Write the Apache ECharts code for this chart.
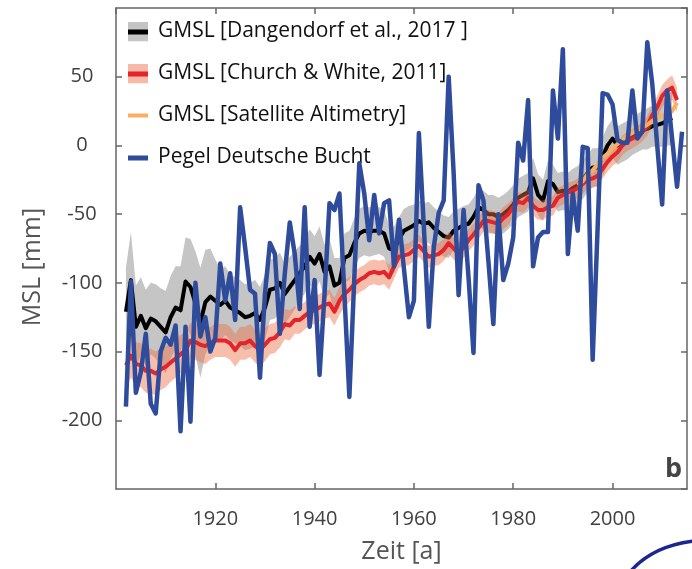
<!DOCTYPE html>
<html>
<head>
<meta charset="utf-8">
<script src="https://cdn.jsdelivr.net/npm/echarts@6/dist/echarts.min.js"></script>
<style>html,body{margin:0;padding:0;background:#fff}#c{width:692px;height:569px}</style>
</head>
<body>
<div id="c"></div>
<script>
// ---- data ----
const xTicks = [1920, 1940, 1960, 1980, 2000];
const yTicks = [-200, -150, -100, -50, 0, 50];

const dangStart = 1902;
const dangMean = [
  -121,-98,-132,-124,-133,-126,-128,-132,-136,
  -125,-118,-120,-99,-103,-115,-129,-114,-110,-113,
  -116,-113,-118,-120,-122,-125,-124,-122,-127,-118,
  -105,-104,-100,-108,-103,-98,-93,-88,-81,-86,
  -79,-92,-88,-102,-100,-82,-80,-71,-64,-62,
  -63,-62,-62,-64,-75,-76,-68,-62,-60,-58,
  -55,-57,-56,-60,-63,-66,-67,-62,-60,-58,
  -57,-52,-45,-47,-50,-50,-52,-50,-47,-43,
  -38,-36,-34,-24,-36,-40,-26,-28,-34,-33,
  -34,-31,-29,-25,-20,-16,-16,-8,0,5,
  0,2,4,7,9,11,12,14,15,16,18,20
];
const dangHalfWidth = [
  32,35,30,28,28,26,27,28,30,
  30,30,32,32,35,38,40,38,35,30,
  26,25,24,24,24,24,24,24,24,24,
  22,22,22,22,22,21,20,20,20,20,
  20,20,20,20,18,18,18,18,18,18,
  18,18,17,17,17,17,16,16,16,15,
  15,15,15,15,15,15,15,14,14,14,
  14,14,14,14,14,14,14,14,14,14,
  14,14,14,15,15,15,15,14,14,14,
  14,14,14,14,14,14,14,14,14,14,
  14,14,14,14,14,14,15,15,16,17,18,20
];

const churchStart = 1902;
const churchMean = [
  -160,-153,-159,-160,-164,-164,-166,-163,-161,
  -158,-155,-152,-149,-142,-143,-145,-146,-144,-142,
  -142,-142,-144,-149,-144,-144,-142,-146,-149,-145,
  -141,-140,-136,-130,-131,-127,-127,-124,-121,-120,
  -118,-116,-115,-121,-113,-108,-105,-101,-98,-96,
  -93,-92,-93,-92,-96,-88,-81,-80,-79,-76,
  -73,-77,-81,-80,-79,-76,-71,-75,-79,-74,
  -69,-65,-60,-55,-55,-56,-57,-53,-50,-45,
  -41,-42,-38,-44,-47,-47,-45,-44,-38,-36,
  -34,-33,-31,-28,-25,-24,-22,-17,-12,-8,
  -5,0,3,5,7,10,14,22,28,36,40,42,33
];
const churchHalfWidth = [
  16,16,16,16,16,16,16,15,15,
  14,14,14,13,13,13,13,13,12,12,
  12,12,12,12,12,12,12,12,12,12,
  11,11,11,11,11,10,10,10,10,10,
  10,10,10,10,10,10,9,9,9,9,
  9,9,9,9,9,9,8,8,8,8,
  8,8,8,8,8,8,8,8,8,8,
  8,8,8,8,8,8,8,8,8,7,
  7,7,7,7,7,7,7,7,7,7,
  7,7,7,7,7,7,7,7,7,7,
  7,7,7,7,7,7,7,7,8,8,8,9,9
];

const satStart = 1993;
const satMean = [-29,-26,-21,-18,-14,-9,-6,-2,1,4,7,9,11,13,15,18,20,22,22,25,31];

const pegelStart = 1902;
const pegel = [
  -190,-99,-180,-165,-137,-188,-195,-150,-140,
  -145,-131,-208,-132,-201,-100,-139,-125,-150,-140,
  -86,-113,-93,-127,-45,-74,-105,-108,-169,-108,
  -71,-79,-137,-93,-56,-79,-119,-45,-132,-98,
  -167,-108,-42,-47,-35,-108,-183,-96,-13,-35,
  -69,-36,-64,-42,-40,-88,-54,-90,-125,-113,
  9,-59,-132,-74,-49,-40,50,-20,-109,-47,
  -96,-151,-29,-40,-84,-130,-50,-98,-86,-67,
  2,-11,33,-88,-67,-63,-63,40,5,70,
  -79,-35,-62,-1,-2,-156,-60,38,37,30,
  4,2,2,40,5,10,75,45,0,-43,40,5,-30,10
];

const names = [
  'GMSL [Dangendorf et al., 2017 ]',
  'GMSL [Church & White, 2011]',
  'GMSL [Satellite Altimetry]',
  'Pegel Deutsche Bucht'
];

// ---- helpers ----
const pairs = (start, arr) => arr.map((v, i) => [start + i, v]);
const band = (start, mean, hw) => mean.map((v, i) => [start + i, v - hw[i], v + hw[i]]);

function bandSeries(name, data, fill, z) {
  return {
    type: 'custom', name: name, coordinateSystem: 'cartesian2d', xAxisIndex: 0, yAxisIndex: 0,
    data: data, encode: { x: 0, y: [1, 2] }, silent: true, z: z, clip: true,
    renderItem: function (params, api) {
      if (params.dataIndex !== 0) return;
      const pts = [];
      for (let i = 0; i < data.length; i++) pts.push(api.coord([data[i][0], data[i][2]]));
      for (let i = data.length - 1; i >= 0; i--) pts.push(api.coord([data[i][0], data[i][1]]));
      return { type: 'polygon', shape: { points: pts }, style: { fill: fill } };
    }
  };
}
function lineSeries(name, data, color, width, z) {
  return {
    type: 'line', name: name, data: data, showSymbol: false, symbol: 'none', z: z,
    lineStyle: { color: color, width: width, join: 'round' }, itemStyle: { color: color },
    clip: true
  };
}
function svgIcon(inner) {
  const svg = "<svg xmlns='http://www.w3.org/2000/svg' width='25' height='20' viewBox='0 0 25 20'>" + inner + "</svg>";
  return 'image://data:image/svg+xml;charset=utf-8,' + encodeURIComponent(svg);
}

const C_BLACK = '#000000', C_RED = '#e4232a', C_ORANGE = '#f9ae60', C_BLUE = '#2f4b9c';

const chart = echarts.init(document.getElementById('c'), null, { renderer: 'canvas' });
const axisLineStyle = { color: '#666', width: 1.5 };
const FONT = '"Open Sans", "Noto Sans", sans-serif';

chart.setOption({
  animation: false,
  backgroundColor: '#fff',
  grid: { left: 116, right: 5, top: 8, bottom: 80, containLabel: false },
  xAxis: [
    {
      type: 'value', min: 1900, max: 2015, interval: 20, position: 'bottom',
      name: 'Zeit [a]', nameLocation: 'middle', nameGap: 50,
      nameTextStyle: { fontSize: 25, color: '#555', fontFamily: FONT },
      axisLine: { show: true, onZero: false, lineStyle: axisLineStyle },
      axisTick: { show: true, inside: true, length: 6, lineStyle: axisLineStyle },
      axisLabel: {
        show: true, margin: 20, fontSize: 20, color: '#404040', fontFamily: FONT,
        showMinLabel: false, showMaxLabel: false,
        formatter: v => (xTicks.indexOf(v) >= 0 ? String(v) : '')
      },
      splitLine: { show: false }
    },
    {
      type: 'value', min: 1900, max: 2015, interval: 20, position: 'top',
      axisLine: { show: true, onZero: false, lineStyle: axisLineStyle },
      axisTick: { show: true, inside: true, length: 6, lineStyle: axisLineStyle },
      axisLabel: { show: false }, splitLine: { show: false }
    }
  ],
  yAxis: [
    {
      type: 'value', min: -250, max: 100, interval: 50, position: 'left',
      axisLine: { show: true, onZero: false, lineStyle: axisLineStyle },
      axisTick: { show: true, inside: true, length: 6, lineStyle: axisLineStyle },
      axisLabel: {
        show: true, margin: 11, fontSize: 20, color: '#404040', fontFamily: FONT,
        showMinLabel: false, showMaxLabel: false,
        formatter: v => (yTicks.indexOf(v) >= 0 ? '{c|' + v + '}' : ''),
        rich: { c: { width: 46, align: 'center', fontSize: 20, color: '#404040', fontFamily: FONT } }
      },
      splitLine: { show: false }
    },
    {
      type: 'value', min: -250, max: 100, interval: 50, position: 'right',
      axisLine: { show: true, onZero: false, lineStyle: axisLineStyle },
      axisTick: { show: true, inside: true, length: 6, lineStyle: axisLineStyle },
      axisLabel: { show: false }, splitLine: { show: false }
    }
  ],
  legend: {
    left: 128, top: 21, orient: 'vertical', itemWidth: 25, itemHeight: 20, itemGap: 21,
    padding: 0, selectedMode: false,
    textStyle: { fontSize: 21, color: '#111', fontFamily: FONT, padding: [0, 0, 0, 0] },
    data: [
      { name: names[0], icon: svgIcon("<rect x='0' y='0' width='20' height='20' fill='#c4c4c4'/><rect x='0' y='8' width='20' height='5' fill='#000'/>") },
      { name: names[1], icon: svgIcon("<rect x='0' y='0' width='20' height='20' fill='#f6bba8'/><rect x='0' y='8' width='20' height='5' fill='" + C_RED + "'/>") },
      { name: names[2], icon: svgIcon("<rect x='0' y='8' width='20' height='4' fill='" + C_ORANGE + "'/>") },
      { name: names[3], icon: svgIcon("<rect x='0' y='8' width='20' height='5' fill='" + C_BLUE + "'/>") }
    ]
  },
  series: [
    bandSeries('Dangendorf Band', band(dangStart, dangMean, dangHalfWidth), 'rgba(150,150,150,0.55)', 1),
    lineSeries(names[0], pairs(dangStart, dangMean), C_BLACK, 4, 2),
    bandSeries('Church Band', band(churchStart, churchMean, churchHalfWidth), 'rgba(238,110,70,0.45)', 3),
    lineSeries(names[1], pairs(churchStart, churchMean), C_RED, 4, 4),
    lineSeries(names[2], pairs(satStart, satMean), C_ORANGE, 4, 5),
    lineSeries(names[3], pairs(pegelStart, pegel), C_BLUE, 4.5, 6)
  ],
  graphic: [
    {
      type: 'text', x: 33, y: 267, rotation: Math.PI / 2, z: 10,
      style: { text: 'MSL [mm]', fill: '#555', font: '25px ' + FONT, align: 'center', verticalAlign: 'middle' }
    },
    {
      type: 'text', x: 682, y: 469, z: 10,
      style: { text: 'b', fill: '#444', font: 'bold 27px ' + FONT, align: 'right', verticalAlign: 'middle' }
    },
    {
      type: 'bezierCurve', z: 10,
      shape: { x1: 630, y1: 572, cpx1: 652, cpy1: 546, x2: 694, y2: 541 },
      style: { stroke: '#1c2590', lineWidth: 3.5, fill: null }
    }
  ]
});
</script>
</body>
</html>
